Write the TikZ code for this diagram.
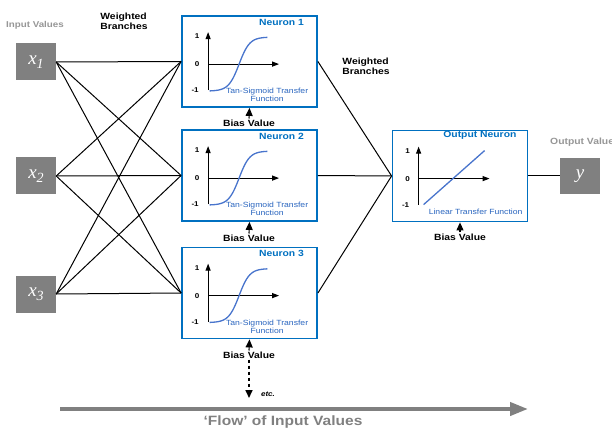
\documentclass[tikz,border=0pt]{standalone}
\usepackage{fontspec}
\setmainfont{Liberation Sans}
\newfontfamily\lblfont{Liberation Sans}[FakeStretch=1.15]
\newfontfamily\varfont{Liberation Serif}
\usepackage{tikz}
\usetikzlibrary{arrows.meta,positioning,calc}
\definecolor{nblue}{RGB}{0,112,192}
\definecolor{cblue}{RGB}{72,116,204}
\definecolor{tblue}{RGB}{40,100,190}
\definecolor{boxgray}{RGB}{128,128,128}
\definecolor{lblgray}{RGB}{150,150,150}
\tikzset{
  inbox/.style={fill=boxgray, minimum width=40pt, minimum height=37pt, inner sep=0pt, text=white,
    font=\varfont\itshape\fontsize{19}{20}\selectfont},
  neubox/.style={draw=nblue, line width=1.8pt, minimum width=135pt, minimum height=91pt, inner sep=0pt},
  wline/.style={line width=1pt},
  biasarr/.style={-{Triangle[length=8pt,width=7pt]}, line width=1.1pt},
  axisln/.style={-{Triangle[length=7pt,width=5pt]}, line width=1.1pt},
  curveln/.style={cblue, line width=1.3pt},
  lbl/.style={font=\lblfont\bfseries\fontsize{9}{10}\selectfont, inner sep=1pt},
  ticklbl/.style={font=\lblfont\bfseries\fontsize{7}{8}\selectfont, inner sep=0pt},
  titlelbl/.style={font=\lblfont\bfseries\fontsize{9}{10}\selectfont, text=nblue, inner sep=0pt},
  fnlbl/.style={font=\lblfont\fontsize{7.5}{8}\selectfont, text=tblue, inner sep=0pt, align=center},
}
% input variable with subscript
\newcommand{\invar}[1]{x\raisebox{-4pt}{\fontsize{14}{14}\selectfont #1}}
% axes inside a neuron box
\newcommand{\axespanel}[1]{%
  \begin{scope}[shift={(#1.north west)}]
    \draw[axisln] (27,75) -- (27,17);
    \draw[axisln] (27,49) -- (98,49);
    \node[ticklbl] at (16,21) {1};
    \node[ticklbl] at (16,49) {0};
    \node[ticklbl] at (14,75) {-1};
  \end{scope}}
% tan-sigmoid curve and caption
\newcommand{\tansig}[2]{%
  \axespanel{#1}
  \begin{scope}[shift={(#1.north west)}]
    \draw[curveln, domain=-2.8:2.7, samples=40, smooth] plot ({58+10.5*\x},{49-27*tanh(\x)});
    \node[titlelbl, anchor=east] at (123,7) {#2};
    \node[fnlbl] at (86,80) {Tan-Sigmoid Transfer\\Function};
  \end{scope}}

\begin{document}
\begin{tikzpicture}[x=1pt, y=-1pt]
  \useasboundingbox (0,0) rectangle (612,430);
  % inputs
  \node[inbox] (in1) at (36,62) {\invar{1}};
  \node[inbox] (in2) at (36,176) {\invar{2}};
  \node[inbox] (in3) at (36,294) {\invar{3}};
  \node[lbl, text=lblgray, font=\lblfont\bfseries\fontsize{8.5}{10}\selectfont] (inlbl) at (35,25) {Input Values};
  % hidden neurons
  \node[neubox] (neu1) at (249.5,61.5) {};
  \node[neubox] (neu2) at (249.5,175.5) {};
  \node[neubox] (neu3) at (249.5,293) {};
  \tansig{neu1}{Neuron 1}
  \tansig{neu2}{Neuron 2}
  \tansig{neu3}{Neuron 3}
  % output neuron
  \node[neubox] (outn) at (460,176) {};
  \axespanel{outn}
  \begin{scope}[shift={(outn.north west)}]
    \draw[cblue, line width=1.3pt] (32,75) -- (93,21);
    \node[titlelbl, anchor=east] at (125,6) {Output Neuron};
    \node[fnlbl] at (84,82) {Linear Transfer Function};
  \end{scope}
  \node[inbox, minimum height=36pt] (yout) at (580,176) {y};
  \node[lbl, text=lblgray, anchor=west] (outlbl) at (549,142) {Output Value};
  % weighted branches
  \foreach \i in {1,2,3} {
    \foreach \j in {1,2,3} {
      \draw[wline] (in\i.east) -- (neu\j.west);
    }
    \draw[wline] (neu\i.east) -- (outn.west);
  }
  \draw[wline] (outn.east) -- (yout.west);
  \node[lbl, align=left] (wb1) at (124,21) {Weighted\\Branches};
  \node[lbl, align=left] (wb2) at (366,66) {Weighted\\Branches};
  % bias inputs
  \node[lbl] (bias1) at (249,123) {Bias Value};
  \node[lbl] (bias2) at (249,238) {Bias Value};
  \node[lbl] (bias3) at (249,355) {Bias Value};
  \node[lbl] (bias4) at (460,237) {Bias Value};
  \draw[biasarr] (bias1.north) -- (neu1.south);
  \draw[biasarr] (bias2.north) -- (neu2.south);
  \draw[biasarr] (bias3.north) -- (neu3.south);
  \draw[biasarr] (bias4.north) -- (outn.south);
  \coordinate (etcpt) at (249,398);
  \draw[biasarr, dashed, line width=1.6pt] (bias3.south) -- (etcpt);
  \node[lbl, font=\lblfont\bfseries\itshape\fontsize{7}{8}\selectfont] (etc) at (268,394) {etc.};
  % flow arrow
  \coordinate (flowL) at (60,409);
  \coordinate (flowR) at (528,409);
  \draw[boxgray, line width=4pt, -{Triangle[length=18pt,width=13pt]}] (flowL) -- (flowR);
  \node[lbl, text=boxgray, font=\lblfont\bfseries\fontsize{13.5}{15}\selectfont] (flowlbl) at (283,422) {‘Flow’ of Input Values};
\end{tikzpicture}
\end{document}
